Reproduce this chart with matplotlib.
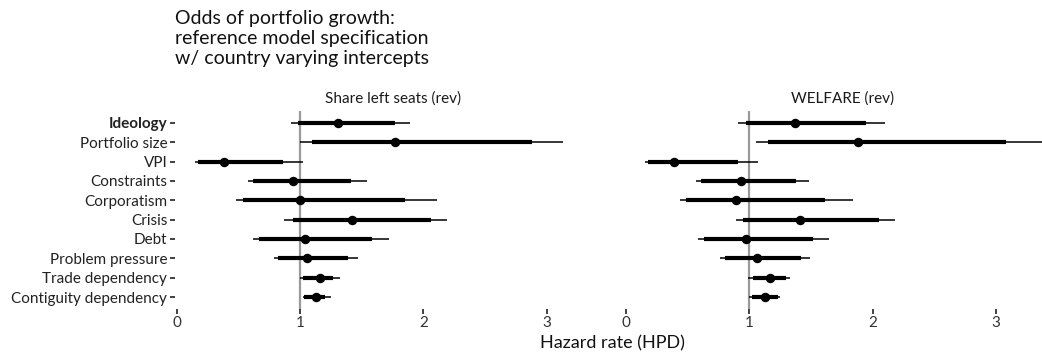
import matplotlib
matplotlib.use("Agg")
import matplotlib.pyplot as plt

plt.rcParams['font.family'] = ['Lato', 'DejaVu Sans']

variables = ["Ideology", "Portfolio size", "VPI", "Constraints", "Corporatism",
             "Crisis", "Debt", "Problem pressure", "Trade dependency",
             "Contiguity dependency"]

panels = ["Share left seats (rev)", "WELFARE (rev)"]

# Share left seats (rev)
left_point = [1.31, 1.77, 0.38, 0.94, 1.00, 1.42, 1.04, 1.06, 1.16, 1.13]
left_in_lo = [0.98, 1.10, 0.17, 0.62, 0.54, 0.94, 0.67, 0.82, 1.02, 1.03]
left_in_hi = [1.77, 2.88, 0.86, 1.41, 1.85, 2.06, 1.58, 1.39, 1.27, 1.20]
left_out_lo = [0.93, 1.00, 0.15, 0.58, 0.48, 0.87, 0.62, 0.79, 1.00, 1.02]
left_out_hi = [1.89, 3.13, 1.02, 1.54, 2.11, 2.19, 1.72, 1.47, 1.32, 1.25]

# WELFARE (rev)
right_point = [1.37, 1.88, 0.39, 0.93, 0.89, 1.41, 0.97, 1.06, 1.17, 1.13]
right_in_lo = [0.97, 1.15, 0.18, 0.61, 0.49, 0.95, 0.63, 0.80, 1.03, 1.02]
right_in_hi = [1.95, 3.08, 0.91, 1.38, 1.61, 2.05, 1.52, 1.42, 1.30, 1.23]
right_out_lo = [0.91, 1.05, 0.15, 0.57, 0.44, 0.89, 0.58, 0.76, 0.99, 1.00]
right_out_hi = [2.10, 3.38, 1.07, 1.48, 1.84, 2.18, 1.65, 1.49, 1.33, 1.25]

xticks = [0, 1, 2, 3]

W, H = 1042, 356
fig = plt.figure(figsize=(W / 100, H / 100), dpi=100)

xlim = (-0.015, 3.53)
ppu = 123.3
panel_w = (xlim[1] - xlim[0]) * ppu
top_px, bot_px = 111.4, 308.6
lefts_px = [174.9, 624.2]

data = [
    (left_point, left_in_lo, left_in_hi, left_out_lo, left_out_hi),
    (right_point, right_in_lo, right_in_hi, right_out_lo, right_out_hi),
]

ypos = list(range(1, len(variables) + 1))
tick_col = "#333333"

for i, (title, (pt, ilo, ihi, olo, ohi)) in enumerate(zip(panels, data)):
    l = lefts_px[i]
    ax = fig.add_axes([l / W, 1 - bot_px / H, panel_w / W, (bot_px - top_px) / H])
    ax.set_xlim(*xlim)
    ax.set_ylim(len(variables) + 0.6, 0.4)
    ax.axvline(1, color="#9a9a9a", lw=1.6, zorder=1)
    ax.hlines(ypos, olo, ohi, color="black", lw=1.1, zorder=2)
    ax.hlines(ypos, ilo, ihi, color="black", lw=3.0, zorder=3)
    ax.plot(pt, ypos, "o", color="black", ms=5.8, zorder=4)
    for s in ax.spines.values():
        s.set_visible(False)
    ax.set_xticks(xticks)
    ax.set_xticklabels([str(t) for t in xticks])
    ax.tick_params(axis="x", length=3.5, width=1.3, color=tick_col,
                   labelsize=11, labelcolor=tick_col, pad=2)
    ax.set_title(title, fontsize=11, color="#1a1a1a", pad=6)
    if i == 0:
        ax.set_yticks(ypos)
        ax.set_yticklabels(variables)
        ax.tick_params(axis="y", length=3.5, width=1.3, color=tick_col,
                       labelsize=11, labelcolor="#222222", pad=2)
        ax.get_yticklabels()[0].set_fontweight("bold")
    else:
        ax.set_yticks([])

fig.text(612 / W, 1 - 343 / H, "Hazard rate (HPD)", ha="center", va="center",
         fontsize=13, color="#111111")

fig.text(175 / W, 1 - 10 / H,
         "Odds of portfolio growth:\nreference model specification\nw/ country varying intercepts",
         ha="left", va="top", fontsize=14, color="#111111", linespacing=1.2)

fig.savefig("out.png", dpi=100)
